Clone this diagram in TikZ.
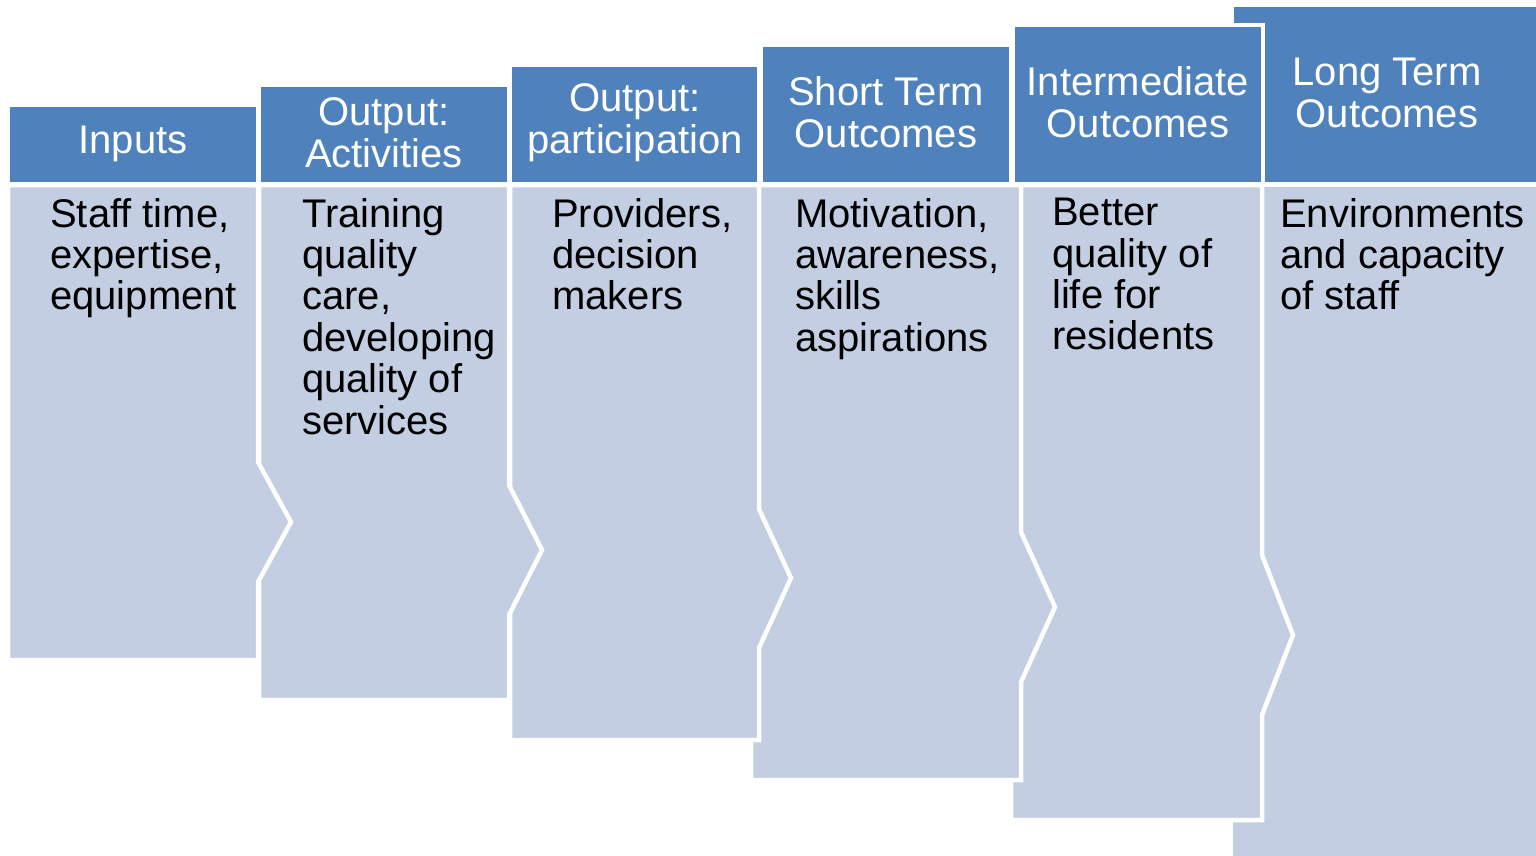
\documentclass[tikz,border=0pt]{standalone}
\usepackage{fontspec}
\setmainfont{Liberation Sans}
\definecolor{hdrblue}{HTML}{4F81BD}
\definecolor{bodyblue}{HTML}{C3CEE2}
\begin{document}
\begin{tikzpicture}[x=1pt,y=-1pt,
  hdr/.style={fill=hdrblue,draw=white,line width=4.5pt},
  bdy/.style={fill=bodyblue,draw=white,line width=4.5pt},
  htext/.style={text=white,font=\fontsize{40}{42}\selectfont,align=center,inner sep=0pt},
  btext/.style={text=black,font=\fontsize{40}{41.4}\selectfont,align=left,anchor=north west,inner sep=0pt}]
\useasboundingbox (0,0) rectangle (1536,855);
\clip (0,0) rectangle (1536,855);
% column 6
\path[hdr] (1232,5) rectangle (1560,184);
\path[bdy] (1231,185) rectangle (1560,870);
% column 5
\path[hdr] (1013,25) rectangle (1263,184);
\path[bdy] (1011,185) -- (1262,185) -- (1262,555) -- (1293,635) -- (1262,715) -- (1262,820) -- (1011,820) -- cycle;
% column 4
\path[hdr] (761,45) rectangle (1011,184);
\path[bdy] (751,185) -- (1021,185) -- (1021,532) -- (1055,607) -- (1021,682) -- (1021,780) -- (751,780) -- cycle;
% column 3
\path[hdr] (510,65) rectangle (759,184);
\path[bdy] (510,185) -- (759,185) -- (759,509) -- (791,578) -- (759,648) -- (759,740) -- (510,740) -- cycle;
% column 2
\path[hdr] (259,85) rectangle (509,184);
\path[bdy] (259,185) -- (509,185) -- (509,485) -- (542,550) -- (509,615) -- (509,700) -- (259,700) -- cycle;
% column 1
\path[hdr] (8,105) rectangle (258,184);
\path[bdy] (8,185) -- (258,185) -- (258,462) -- (291,522) -- (258,582) -- (258,660) -- (8,660) -- cycle;
% header texts
\node[htext] (h1) at (133,144) {Inputs};
\node[htext] (h2) at (384,132.5) {Output:\\Activities};
\node[htext] (h3) at (635,122.5) {Output:\\participation};
\node[htext] (h4) at (886,112.5) {Short Term\\Outcomes};
\node[htext] (h5) at (1138,102) {Intermediate\\Outcomes};
\node[htext] (h6) at (1387,93) {Long Term\\Outcomes};
% body texts
\node[btext] (b1) at (50,198) {Staff time,\\expertise,\\equipment};
\node[btext] (b2) at (302,198) {Training\\quality\\care,\\developing\\quality of\\services};
\node[btext] (b3) at (552,198) {Providers,\\decision\\makers};
\node[btext] (b4) at (795,198) {Motivation,\\awareness,\\skills\\aspirations};
\node[btext] (b5) at (1052,198) {Better\\quality of\\life for\\residents};
\node[btext] (b6) at (1280,198) {Environments\\and capacity\\of staff};
\end{tikzpicture}
\end{document}
